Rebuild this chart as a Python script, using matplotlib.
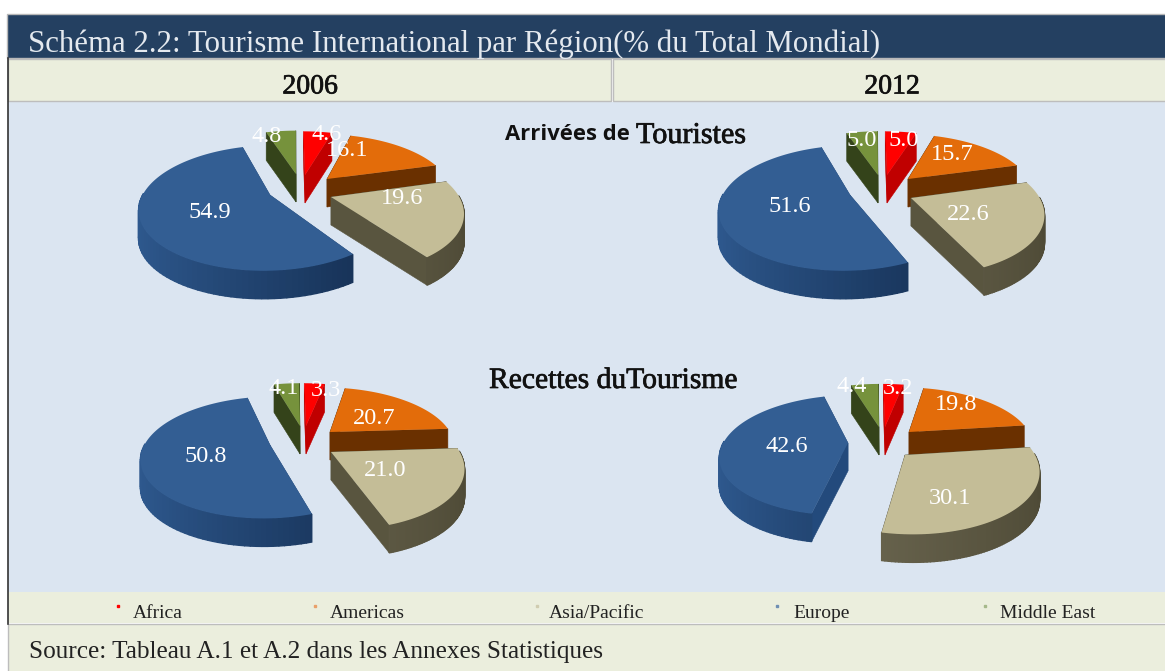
import numpy as np
import matplotlib
matplotlib.use("Agg")
import matplotlib.pyplot as plt
import matplotlib.patheffects as pe
from matplotlib.patches import Rectangle, Polygon
from matplotlib.path import Path
from matplotlib.transforms import Transform, Affine2D

# ---- data ----
regions = ["Africa", "Americas", "Asia/Pacific", "Europe", "Middle East"]
years = ["2006", "2012"]
arrivals_2006 = [4.6, 16.1, 19.6, 54.9, 4.8]
arrivals_2012 = [5.0, 15.7, 22.6, 51.6, 5.0]
receipts_2006 = [3.3, 20.7, 21.0, 50.8, 4.1]
receipts_2012 = [3.2, 19.8, 30.1, 42.6, 4.4]
title = "Schéma 2.2: Tourisme International par Région(% du Total Mondial)"
source = "Source: Tableau A.1 et A.2 dans les Annexes Statistiques"

# ---- styles ----
W, H = 1165, 671
top_colors = ["#ff0000", "#e36c0a", "#c4bd97", "#335e93", "#76923c"]
radial_colors = ["#c00000", "#6a3000", "#59553f", "#234a7c", "#34431a"]
arc_light = ["#d00000", "#74360a", "#76715a", "#2f5a90", "#3c4c1e"]
arc_dark = ["#a00000", "#5f2a00", "#4e4a36", "#11294a", "#2c3814"]
draw_order = [4, 0, 1, 3, 2]
PERSP, RX, RY, DEPTH = 0.2, 123, 56, 28
SERIF = "Liberation Serif"


class Perspective(Transform):
    input_dims = output_dims = 2

    def __init__(self, cx, cy):
        super().__init__()
        self.cx, self.cy = cx, cy

    def transform_non_affine(self, xy):
        xy = np.asarray(xy, float)
        w = 1 + PERSP * xy[:, 1]
        return np.column_stack([self.cx + RX * xy[:, 0] / w, self.cy - RY * xy[:, 1] / w])

    def transform_path_non_affine(self, path):
        poly = path.to_polygons(Affine2D().scale(2000), closed_only=False)[0] / 2000
        return Path(self.transform_non_affine(poly))

    def unproject(self, x, y):
        s = (self.cy - y) / RY
        v = s / (1 - PERSP * s)
        return (x - self.cx) * (1 + PERSP * v) / RX, v


def mix(a, b, t):
    ca, cb = np.array(matplotlib.colors.to_rgb(a)), np.array(matplotlib.colors.to_rgb(b))
    return tuple(ca + (cb - ca) * t)


fig = plt.figure(figsize=(W / 100, H / 100), dpi=100)
ax = fig.add_axes([0, 0, 1, 1])


def draw_pie(values, cx, cy, tips):
    tr = Perspective(cx, cy)
    wedges, _ = ax.pie(values, colors=top_colors, startangle=90, counterclock=False, radius=1)
    for rank, i in enumerate(draw_order):
        wd = wedges[i]
        wd.set_center(tr.unproject(*tips[i]))
        base = 10 + rank * 3
        wd.set_transform(tr + ax.transData)
        wd.set_zorder(base + 2)
        wd.set_edgecolor("none")
        c = np.array(wd.center)
        th = np.radians(np.linspace(wd.theta1, wd.theta2, 90))
        rim = tr.transform_non_affine(c + np.column_stack([np.cos(th), np.sin(th)]))
        apex = tr.transform_non_affine(c[None, :])[0]
        for end in (rim[0], rim[-1]):
            ax.add_patch(Polygon([apex, end, end + [0, DEPTH], apex + [0, DEPTH]],
                                 fc=radial_colors[i], ec=radial_colors[i], lw=0.4, zorder=base))
        for j in range(len(th) - 1):
            mid = (th[j] + th[j + 1]) / 2
            if np.sin(mid) > 0.02:
                continue
            col = mix(arc_dark[i], arc_light[i], (1 - np.cos(mid)) / 2)
            a, b = rim[j], rim[j + 1]
            ax.add_patch(Polygon([a, b, b + [0, DEPTH], a + [0, DEPTH]],
                                 fc=col, ec=col, lw=1.0, zorder=base + 1))


# layout: where each exploded slice's inner tip sits, in figure pixels
draw_pie(arrivals_2006, 295, 185, [(305, 175), (327, 179), (331, 197), (270, 195), (296, 174)])
draw_pie(arrivals_2012, 876, 185, [(887, 175), (908, 179), (911, 198), (850, 195), (878, 175)])
draw_pie(receipts_2006, 295, 439, [(306, 426), (330, 432), (331, 452), (270, 445), (300, 426)])
draw_pie(receipts_2012, 875, 439, [(885, 427), (909, 432), (905, 455), (848, 443), (879, 427)])

ax.set_aspect("auto")
ax.set_xlim(0, W)
ax.set_ylim(H, 0)
ax.axis("off")


# ---- panels ----
def rect(x0, y0, x1, y1, fc, ec="none", lw=0, z=1):
    ax.add_patch(Rectangle((x0, y0), x1 - x0, y1 - y0, fc=fc, ec=ec, lw=lw, zorder=z))


rect(8, 102, W, 592, "#dbe5f1")
rect(7, 14, W + 2, 58, "#244061", ec="#b8b8b8", lw=1)
rect(8, 59, 611, 101, "#ebeedd", ec="#bdbdbd", lw=1)
rect(613, 59, W + 2, 101, "#ebeedd", ec="#bdbdbd", lw=1)
rect(8, 592, W, 623, "#ebeedd")
rect(8, 624, W + 2, H + 2, "#ebeedd", ec="#bdbdbd", lw=1)
ax.plot([7.5, 7.5], [58, 624], color="#333333", lw=1.2, zorder=2)

# ---- text ----
thick = [pe.withStroke(linewidth=0.5, foreground="#111111")]
ax.text(28, 44, title, color="#e4e9ef", fontsize=22.2, family=SERIF, va="center", zorder=50)
ax.text(310, 87, years[0], fontsize=20, family=SERIF, ha="center", va="center",
        color="#111111", zorder=50, path_effects=thick)
ax.text(892, 87, years[1], fontsize=20, family=SERIF, ha="center", va="center",
        color="#111111", zorder=50, path_effects=thick)
ax.text(505, 135, "Arrivées de", fontsize=15.8, family="Open Sans", fontweight="bold", va="center",
        color="#111111", zorder=50)
ax.text(636, 136, "Touristes", fontsize=21.7, family=SERIF, va="center", color="#111111", zorder=50,
        path_effects=thick)
ax.text(489, 381, "Recettes duTourisme", fontsize=21.3, family=SERIF, va="center", color="#111111",
        zorder=50, path_effects=thick)
ax.text(29, 652, source, fontsize=18.2, family=SERIF, va="center", color="#222222", zorder=50)

label_sets = [
    (arrivals_2006, [(327, 132), (347, 148), (402, 197), (210, 210), (267, 134)]),
    (arrivals_2012, [(904, 139), (952, 153), (968, 213), (790, 205), (862, 139)]),
    (receipts_2006, [(326, 388), (374, 417), (385, 468), (206, 454), (284, 386)]),
    (receipts_2012, [(898, 387), (956, 403), (950, 497), (787, 445), (852, 385)]),
]
for vals, spots in label_sets:
    for v, (x, y) in zip(vals, spots):
        ax.text(x, y + 2, f"{v:.1f}", color="white", fontsize=17.5, family=SERIF, ha="center",
                va="center", zorder=60)

marker_x = [118, 315, 537, 777, 985]
text_x = [133, 330, 549, 793, 1000]
for name, col, mx, tx in zip(regions, ["#ff0000", "#e9a06a", "#d0ccb0", "#6f8fb3", "#a5b88a"], marker_x, text_x):
    ax.plot([mx], [606], marker="s", ms=1.8, color=col, ls="none", zorder=50)
    ax.text(tx, 613, name, fontsize=14, family=SERIF, va="center", color="#222222", zorder=50)

fig.savefig("out.png", dpi=100)
